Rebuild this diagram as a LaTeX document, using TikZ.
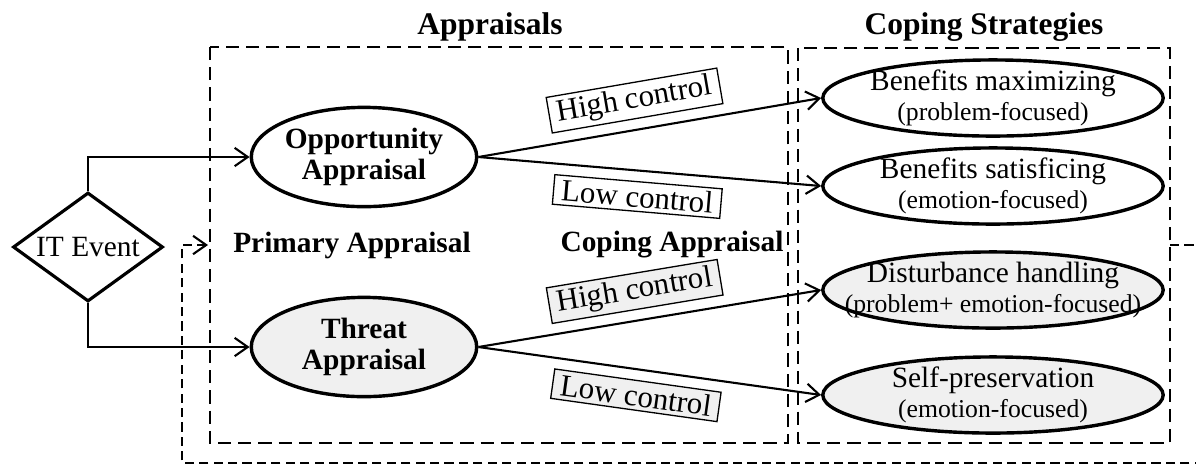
\documentclass[tikz,border=0pt]{standalone}
\usepackage{fontspec}
\setmainfont{Liberation Serif}
\usetikzlibrary{shapes.geometric,arrows.meta}

\begin{document}
\begin{tikzpicture}[x=0.0134cm,y=-0.0134cm,line width=0.8pt,>={Straight Barb[length=5pt,width=7pt]}]
    \tikzstyle{every node}=[font=\fontsize{11.2}{11.5}\selectfont]
    \tikzstyle{heading}=[font=\fontsize{12}{14}\selectfont\bfseries]
    \tikzstyle{stage}=[font=\fontsize{11.2}{13}\selectfont\bfseries]
    \tikzstyle{event}=[diamond,draw,line width=1.2pt,aspect=1.4,minimum width=2.01cm,minimum height=1.46cm,inner sep=0pt]
    \tikzstyle{appraisal}=[ellipse,draw,line width=1.3pt,minimum width=3.02cm,minimum height=1.33cm,inner xsep=-2pt,inner ysep=0pt,align=center,font=\fontsize{11.2}{11.5}\selectfont\bfseries]
    \tikzstyle{strategy}=[ellipse,draw,line width=1.3pt,minimum width=4.56cm,minimum height=1.02cm,inner xsep=-12pt,inner ysep=-2pt,align=center]
    \tikzstyle{control}=[draw,line width=0.5pt,inner xsep=3pt,inner ysep=1.5pt,sloped,pos=.47,font=\fontsize{11.8}{12}\selectfont]
    \tikzstyle{frame}=[dash pattern=on 5pt off 2.7pt,line width=1pt]
    \tikzstyle{feedback}=[dash pattern=on 3.5pt off 2pt,line width=0.8pt]

    \useasboundingbox (0,0) rectangle (1196,465);

    \node[heading] (H-1) at (490,27) {Appraisals};
    \node[heading] (H-2) at (984,27) {Coping Strategies};

    \draw[frame] (210,47) rectangle (788,443);
    \draw[frame] (798,48) rectangle (1170,443);

    \node[event] (IT) at (88,247) {IT Event};
    \node[appraisal,fill=white] (A-1) at (364,157) {Opportunity\\Appraisal};
    \node[appraisal,fill=gray!12] (A-2) at (364,347) {Threat\\Appraisal};
    \node[stage] (P) at (352,245) {Primary Appraisal};
    \node[stage] (C) at (672,245) {Coping Appraisal};

    \foreach \num/\y/\main/\focus/\tone in {1/98/Benefits maximizing/problem-focused/white,
            2/186/Benefits satisficing/emotion-focused/white,
            3/290/Disturbance handling/problem+ emotion-focused/gray!12,
            4/395/Self-preservation/emotion-focused/gray!12}
        \node[strategy,fill=\tone] (S-\num) at (993,\y) {\main\\{\fontsize{9.8}{10}\selectfont(\focus)}};

    \draw[->] (IT.north) |- (A-1.west);
    \draw[->] (IT.south) |- (A-2.west);

    \foreach \from/\to/\lvl/\side/\tone in {1/1/High/above/white, 1/2/Low/below/white,
            2/3/High/above/gray!12, 2/4/Low/below/gray!12}
        \draw[->] (A-\from.east) -- node[control,fill=\tone,\side=4pt] {\lvl{} control} (S-\to.west);

    \coordinate (F-1) at (1170,245);
    \coordinate (F-2) at (208,245);
    \draw[feedback,->] (F-1) -- (1215,245) |- (182,463) |- (F-2);
\end{tikzpicture}
\end{document}
